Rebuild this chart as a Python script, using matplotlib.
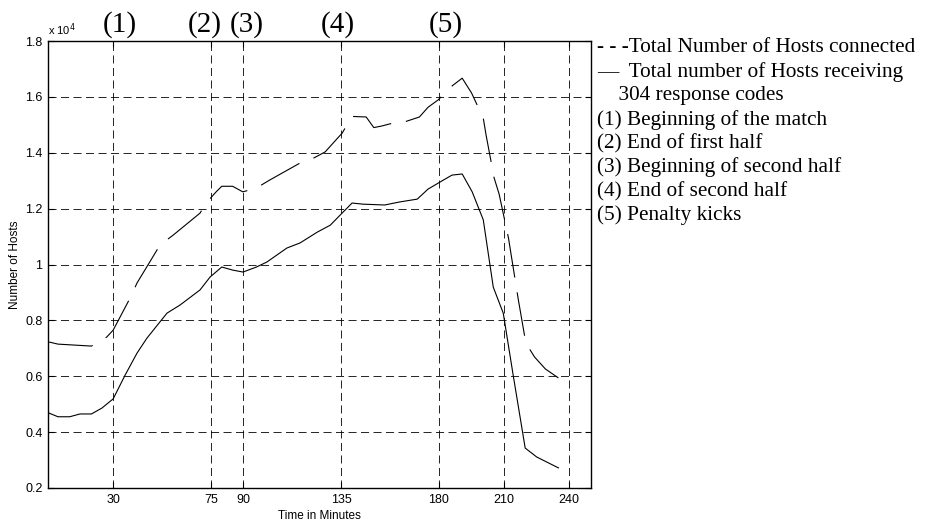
import matplotlib
matplotlib.use("Agg")
import matplotlib.pyplot as plt

plt.rcParams['lines.scale_dashes'] = False

# hosts in units of 10^4, time in minutes
t_conn = [0.5, 4.6, 20, 27, 30, 37.8, 41, 51.6, 57.6, 70, 72.8, 77.4, 80, 85, 89.7, 96,
          102, 116, 121.6, 127.6, 135.4, 140, 146.5, 150, 153.8, 160.7, 164, 171, 175,
          179.6, 186, 190.7, 195, 198, 200.4, 201.7, 205.4, 207.7, 212, 216.5, 220, 224,
          229, 235]
hosts_conn = [0.7225, 0.715, 0.708, 0.74, 0.765, 0.88, 0.934, 1.07, 1.105, 1.184, 1.22,
              1.26, 1.28, 1.28, 1.26, 1.274, 1.302, 1.363, 1.378, 1.403, 1.47, 1.53, 1.528,
              1.49, 1.496, 1.51, 1.51, 1.528, 1.563, 1.589, 1.639, 1.667, 1.614, 1.564,
              1.524, 1.463, 1.31, 1.252, 1.095, 0.876, 0.719, 0.669, 0.626, 0.594]

t_304 = [0.5, 4.6, 10, 14.7, 20, 24.8, 30, 35.5, 41, 45.6, 54.8, 60.8, 70, 74.6, 80, 85,
         89.8, 96, 100.8, 110, 116, 124, 130, 135.4, 140, 145, 155, 162, 170, 175, 182,
         186, 190.7, 195.3, 200.4, 205, 209.6, 214, 219.7, 225, 235]
hosts_304 = [0.468, 0.455, 0.455, 0.465, 0.465, 0.486, 0.519, 0.604, 0.683, 0.737, 0.826,
             0.855, 0.909, 0.955, 0.991, 0.98, 0.973, 0.991, 1.009, 1.059, 1.077, 1.116,
             1.141, 1.184, 1.22, 1.216, 1.213, 1.224, 1.234, 1.27, 1.302, 1.32, 1.324,
             1.26, 1.16, 0.919, 0.826, 0.612, 0.343, 0.311, 0.272]

x_ticks = [30, 75, 90, 135, 180, 210, 240]
y_ticks = [0.2, 0.4, 0.6, 0.8, 1.0, 1.2, 1.4, 1.6, 1.8]
y_tick_labels = ['0.2', '0.4', '0.6', '0.8', '1', '1.2', '1.4', '1.6', '1.8']

event_labels = ['(1)', '(2)', '(3)', '(4)', '(5)']
event_pos = [33, 72, 91.5, 133.6, 183.3]

legend_lines = ['- - -Total Number of Hosts connected',
                '\u2014  Total number of Hosts receiving',
                '    304 response codes',
                '(1) Beginning of the match',
                '(2) End of first half',
                '(3) Beginning of second half',
                '(4) End of second half',
                '(5) Penalty kicks']

sans = 'Liberation Sans'
serif = 'Liberation Serif'

fig = plt.figure(figsize=(9.25, 5.24), dpi=100)
ax = fig.add_axes([48 / 925, 36 / 524, 543 / 925, 447 / 524])

ax.plot(t_conn, hosts_conn, color='black', lw=0.8, linestyle=(0, (31.7, 10.8)))
ax.plot(t_304, hosts_304, color='black', lw=0.8)

ax.set_xlim(0, 250)
ax.set_ylim(0.2, 1.8)
ax.set_xticks(x_ticks)
ax.set_yticks(y_ticks)
ax.set_yticklabels(y_tick_labels)
ax.grid(True, color='black', lw=0.6, linestyle=(0, (5.8, 3.2)))
ax.tick_params(direction='in', length=4, width=0.8, top=True, right=True,
               labelsize=9, pad=4)
for lab in ax.get_xticklabels() + ax.get_yticklabels():
    lab.set_fontfamily(sans)
for sp in ax.spines.values():
    sp.set_linewidth(1.0)

ax.set_xlabel('Time in Minutes', fontsize=8.5, fontfamily=sans, labelpad=3)
ax.set_ylabel('Number of Hosts', fontsize=8.5, fontfamily=sans, labelpad=3)
ax.text(0, 1.81, r'x 10$^4$', fontsize=8, fontfamily=sans, ha='left', va='bottom',
        transform=ax.transData)

for lab, pos in zip(event_labels, event_pos):
    ax.text(pos, 1.86, lab, fontsize=21, fontfamily=serif, ha='center', va='center',
            clip_on=False)

for i, line in enumerate(legend_lines):
    fig.text(597 / 925, 1 - (48 + i * 23.9) / 524, line, fontsize=15.3,
             fontfamily=serif, ha='left', va='center')

fig.savefig('out.png', dpi=100)
